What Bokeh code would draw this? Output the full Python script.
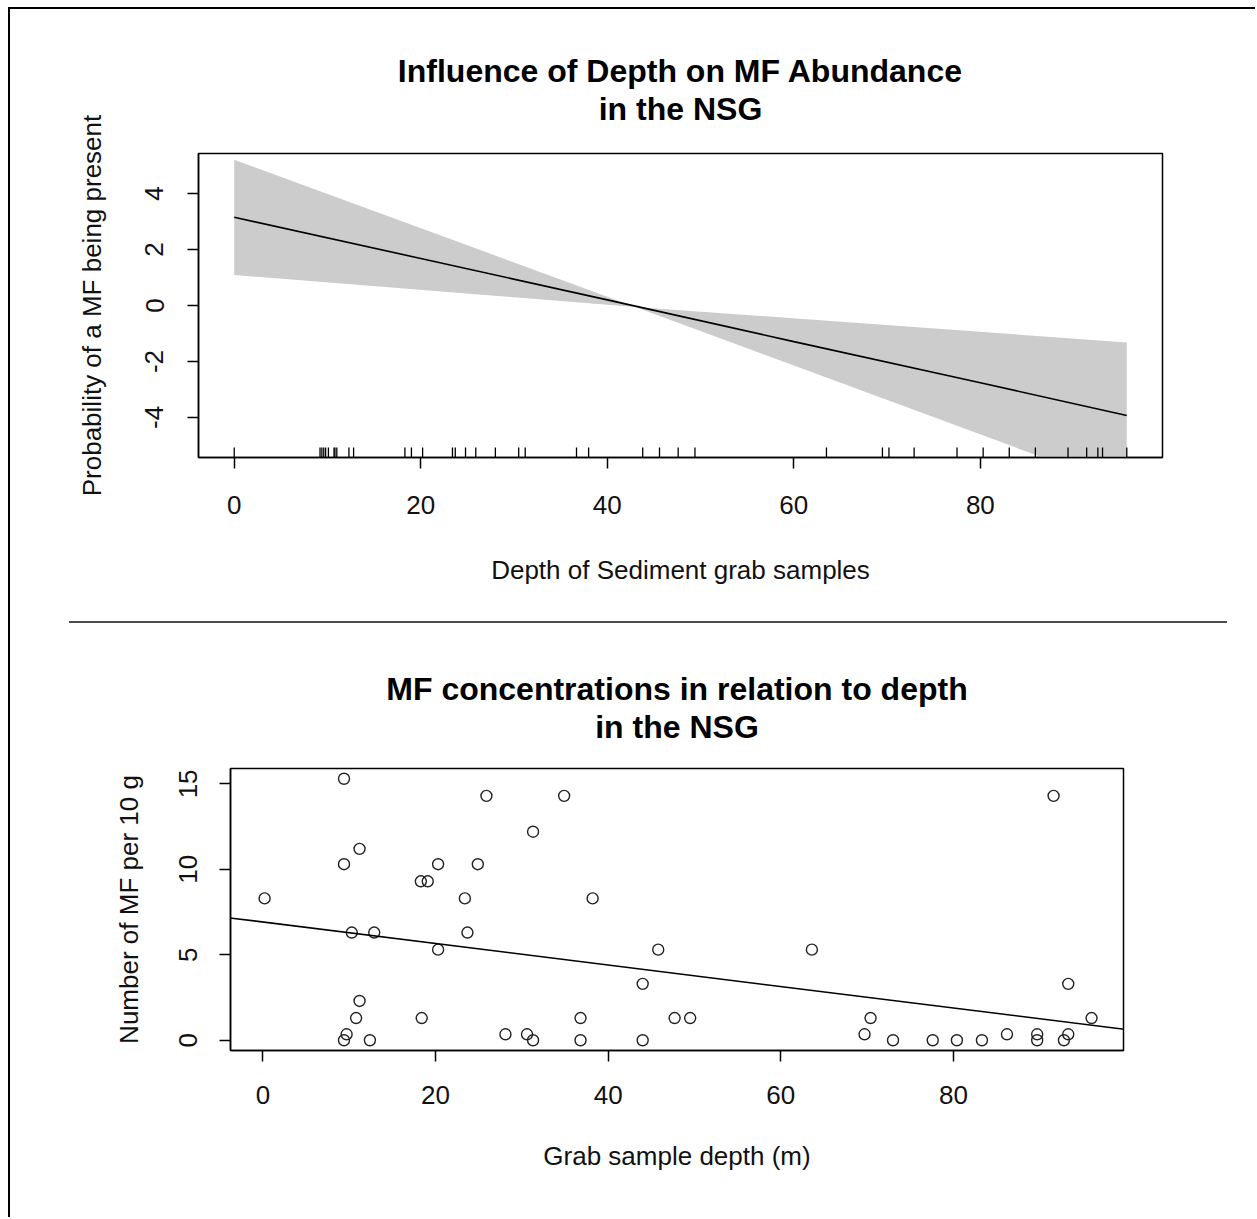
import numpy as np
from bokeh.plotting import figure
from bokeh.models import Range1d, FixedTicker, Div, Slope, CustomJSTickFormatter, Title
from bokeh.layouts import column
from bokeh.embed import file_html
from bokeh.resources import INLINE

# ---------------- data: top panel (model effect of depth) ----------------
rug_depth = [0, 9.2, 9.4, 9.6, 9.8, 10.1, 10.7, 10.8, 11.0, 12.3, 12.8, 18.3, 19.0,
             20.2, 23.4, 23.7, 24.8, 25.9, 28.0, 30.5, 31.2, 36.7, 38.0, 43.8, 45.6,
             47.6, 49.4, 63.5, 69.5, 70.2, 72.9, 77.5, 80.3, 83.1, 85.9, 89.4, 91.4,
             92.6, 93.1, 95.7]
fit_depth = [0, 20, 40, 60, 80, 95.7]
fit_value = [3.15, 1.68, 0.2, -1.29, -2.76, -3.93]
band_depth = [0, 43.0, 95.7]
band_upper = [5.21, -0.05, -1.32]
band_lower = [1.09, -0.05, -6.54]
top_xticks = [0, 20, 40, 60, 80]
top_yticks = [-4, -2, 0, 2, 4]

# ---------------- data: bottom panel (MF counts vs depth) ----------------
sample_depth = [0.2, 9.4, 9.4, 9.4, 9.7, 10.3, 10.8, 11.2, 11.2, 12.4, 12.9, 18.3,
                18.4, 19.1, 20.3, 20.3, 23.4, 23.7, 24.9, 25.9, 28.1, 30.6, 31.3, 31.3,
                34.9, 36.8, 36.8, 38.2, 44.0, 44.0, 45.8, 47.7, 49.5, 63.6, 69.7, 70.4,
                73.0, 77.6, 80.4, 83.3, 86.2, 89.7, 89.7, 91.6, 92.8, 93.3, 93.3, 96.0]
mf_count = [8.3, 15.3, 10.3, 0.0, 0.35, 6.3, 1.3, 11.2, 2.3, 0.0, 6.3, 9.3,
            1.3, 9.3, 10.3, 5.3, 8.3, 6.3, 10.3, 14.3, 0.35, 0.35, 12.2, 0.0,
            14.3, 1.3, 0.0, 8.3, 3.3, 0.0, 5.3, 1.3, 1.3, 5.3, 0.35, 1.3,
            0.0, 0.0, 0.0, 0.0, 0.35, 0.35, 0.0, 14.3, 0.0, 3.3, 0.35, 1.3]
reg_intercept = 6.92
reg_slope = -0.0629
bottom_xticks = [0, 20, 40, 60, 80]
bottom_yticks = [0, 5, 10, 15]

FONT = "Liberation Sans"


def r_style(p, xticks, yticks, xl_standoff, yl_standoff, xt_standoff, yt_standoff):
    p.xgrid.visible = False
    p.ygrid.visible = False
    p.outline_line_color = "black"
    p.outline_line_width = 1.5
    p.background_fill_color = "white"
    p.border_fill_color = "white"
    p.xaxis.ticker = FixedTicker(ticks=xticks)
    p.yaxis.ticker = FixedTicker(ticks=yticks)
    for ax in (p.xaxis[0], p.yaxis[0]):
        ax.formatter = CustomJSTickFormatter(code="return String(tick);")
        ax.axis_line_color = "black"
        ax.axis_line_width = 1.5
        ax.major_tick_line_color = "black"
        ax.major_tick_line_width = 1.5
        ax.major_tick_out = 11
        ax.major_tick_in = 0
        ax.minor_tick_line_color = None
        ax.major_label_text_font = FONT
        ax.major_label_text_font_size = "26px"
        ax.major_label_text_color = "#111111"
        ax.axis_label_text_font = FONT
        ax.axis_label_text_font_size = "26px"
        ax.axis_label_text_font_style = "normal"
        ax.axis_label_text_color = "#111111"
    p.xaxis.major_label_standoff = xt_standoff
    p.yaxis.major_label_standoff = yt_standoff
    p.xaxis.axis_label_standoff = xl_standoff
    p.yaxis.axis_label_standoff = yl_standoff
    p.yaxis.major_label_orientation = "vertical"


def add_titles(p, line1, line2, gap):
    # p.title is always outermost; extra "above" titles stack from the frame outward
    p.title.text = line1
    p.title.align = "center"
    p.title.text_font = FONT
    p.title.text_font_size = "32px"
    p.title.text_font_style = "bold"
    p.title.text_color = "black"
    p.title.standoff = 0
    spacer = Title(text=" ", align="center", text_font=FONT, text_font_size="1px",
                   standoff=gap)
    p.add_layout(spacer, "above")
    t2 = Title(text=line2, align="center", text_font=FONT, text_font_size="32px",
               text_font_style="bold", text_color="black", standoff=0)
    p.add_layout(t2, "above")


# ---------------- top figure ----------------
p1 = figure(width=1245, height=612, output_backend="svg", toolbar_location=None,
            min_border_left=188, min_border_right=93, min_border_top=144,
            min_border_bottom=164,
            x_range=Range1d(-3.83, 99.53), y_range=Range1d(-5.43, 5.43))
r_style(p1, top_xticks, top_yticks, 38, 36, 27, 24)
p1.xaxis.axis_label = "Depth of Sediment grab samples"
p1.yaxis.axis_label = "Probability of a MF being present"
add_titles(p1, "Influence of Depth on MF Abundance", "in the NSG", 24)

p1.varea(x=band_depth, y1=band_lower, y2=band_upper, fill_color="#cccccc")
p1.line(fit_depth, fit_value, line_color="black", line_width=1.6)
ylo = p1.y_range.start
tick_len = 0.033 * (p1.y_range.end - p1.y_range.start)
p1.segment(x0=rug_depth, x1=rug_depth, y0=[ylo] * len(rug_depth),
           y1=[ylo + tick_len] * len(rug_depth), line_color="black", line_width=1.3)

# ---------------- separator ----------------
sep = Div(text="", width=1158, height=2, margin=(0, 0, 0, 59),
          styles={"background-color": "#4d4d4d"})

# ---------------- bottom figure ----------------
p2 = figure(width=1245, height=594, output_backend="svg", toolbar_location=None,
            min_border_left=220, min_border_right=132, min_border_top=145,
            min_border_bottom=167,
            x_range=Range1d(-3.75, 99.7), y_range=Range1d(-0.6, 15.9))
r_style(p2, bottom_xticks, bottom_yticks, 34, 33, 24, 22)
p2.xaxis.axis_label = "Grab sample depth (m)"
p2.yaxis.axis_label = "Number of MF per 10 g"
add_titles(p2, "MF concentrations in relation to depth", "in the NSG", 21)

p2.scatter(sample_depth, mf_count, marker="circle", size=11, fill_color=None,
           line_color="#222222", line_width=1.4)
p2.add_layout(Slope(gradient=reg_slope, y_intercept=reg_intercept,
                    line_color="black", line_width=1.5))

top_block = column(p1, sep, margin=(7, 0, 0, 8),
                   styles={"border-top": "2px solid black",
                           "border-left": "2px solid black"})
bottom_block = column(p2, margin=(0, 0, 0, 8),
                      styles={"border-left": "2px solid black"})

open("out.html", "w").write(file_html([top_block, bottom_block], INLINE))
